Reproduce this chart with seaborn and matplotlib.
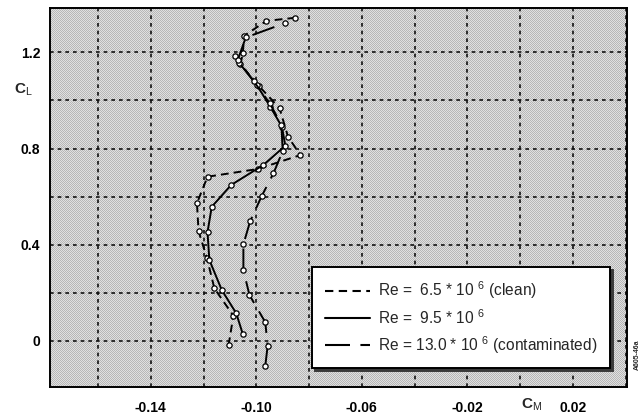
import numpy as np
import pandas as pd
import matplotlib
matplotlib.use("Agg")
import matplotlib.pyplot as plt
from matplotlib.lines import Line2D
import seaborn as sns

# Pitching moment vs. lift coefficient for three Reynolds numbers
cm_clean = [-0.1105, -0.1087, -0.1159, -0.1187, -0.1219, -0.1225, -0.1185,
            -0.0995, -0.0833, -0.0880, -0.0912, -0.0990, -0.1060, -0.1051,
            -0.1046, -0.0962, -0.0852]
cl_clean = [-0.017, 0.105, 0.219, 0.344, 0.457, 0.573, 0.683,
            0.715, 0.773, 0.850, 0.968, 1.060, 1.150, 1.199,
            1.269, 1.331, 1.344]

cm_mid = [-0.1051, -0.1076, -0.1131, -0.1178, -0.1185, -0.1169, -0.1095,
          -0.0973, -0.0890, -0.0903, -0.0947, -0.0998, -0.1064, -0.1080]
cl_mid = [0.028, 0.115, 0.212, 0.337, 0.452, 0.558, 0.649,
          0.732, 0.812, 0.891, 0.974, 1.064, 1.155, 1.185]

cm_cont = [-0.0966, -0.0957, -0.0966, -0.1026, -0.1049, -0.1049, -0.1023,
           -0.0979, -0.0935, -0.0900, -0.0905, -0.0950, -0.1010, -0.1070,
           -0.1040, -0.0893]
cl_cont = [-0.103, -0.020, 0.078, 0.191, 0.295, 0.402, 0.499,
           0.604, 0.697, 0.790, 0.900, 0.990, 1.080, 1.170,
           1.262, 1.321]

series_labels = [r"Re =  6.5 * 10 $^{6}$ (clean)",
                 r"Re =  9.5 * 10 $^{6}$",
                 r"Re = 13.0 * 10 $^{6}$ (contaminated)"]

x_ticks = [-0.16, -0.14, -0.12, -0.10, -0.08, -0.06, -0.04, -0.02, 0.00, 0.02, 0.04]
x_tick_labels = ["", "-0.14", "", "-0.10", "", "-0.06", "", "-0.02", "", "0.02", ""]
y_ticks = [0.0, 0.2, 0.4, 0.6, 0.8, 1.0, 1.2]
y_tick_labels = ["0", "", "0.4", "", "0.8", "", "1.2"]

sns.set_theme(style="white")
plt.rcParams["font.family"] = ["Liberation Sans", "DejaVu Sans"]
plt.rcParams["mathtext.fontset"] = "custom"
plt.rcParams["mathtext.rm"] = "Liberation Sans"
plt.rcParams["mathtext.it"] = "Liberation Sans"
plt.rcParams["mathtext.bf"] = "Liberation Sans:bold"

W, H = 643, 419
AX_L, AX_T, AX_R, AX_B = 50, 8, 627, 387
fig = plt.figure(figsize=(W / 100, H / 100), dpi=100)
fig.patch.set_facecolor("white")
ax = fig.add_axes([AX_L / W, 1 - AX_B / H, (AX_R - AX_L) / W, (AX_B - AX_T) / H])
ax.set_facecolor("none")

# fine stipple screen behind the plotting area, placed pixel for pixel
rows, cols = AX_B - AX_T, AX_R - AX_L
ii, jj = np.mgrid[0:rows, 0:cols]
screen = np.where((ii + jj) % 2 == 0, 0.72, 0.88)
rgb = np.dstack([screen, screen, screen])
fig.figimage(rgb, xo=AX_L, yo=H - AX_B, origin="upper", zorder=-5)

styles = [(4, 2.6), "", (12, 5)]
frames = []
for cm, cl, lab in zip([cm_clean, cm_mid, cm_cont], [cl_clean, cl_mid, cl_cont], series_labels):
    frames.append(pd.DataFrame({"CM": cm, "CL": cl, "series": lab}))
df = pd.concat(frames, ignore_index=True)

for lab, dash in zip(series_labels, styles):
    sub = df[df["series"] == lab]
    sns.lineplot(data=sub, x="CM", y="CL", sort=False, estimator=None, ax=ax,
                 color="black", linewidth=1.4, dashes=False, legend=False,
                 marker="o", markersize=3.8, markerfacecolor="white",
                 markeredgecolor="black", markeredgewidth=0.9, zorder=4)
    line = ax.lines[-1]
    if dash:
        line.set_dashes(dash)

ax.set_xlim(-0.1782, 0.0405)
ax.set_ylim(-0.1913, 1.3846)
ax.set_xticks(x_ticks)
ax.set_xticklabels(x_tick_labels)
ax.set_yticks(y_ticks)
ax.set_yticklabels(y_tick_labels)
ax.tick_params(axis="both", length=0, labelsize=10, colors="black")
ax.tick_params(axis="x", pad=10)
ax.tick_params(axis="y", pad=7)
for t in ax.get_xticklabels() + ax.get_yticklabels():
    t.set_fontweight("bold")
ax.set_xlabel("")
ax.set_ylabel("")

ax.grid(True, color="#111111", linestyle=(0, (2.2, 2.4)), linewidth=1.2)
ax.set_axisbelow(True)
for s in ax.spines.values():
    s.set_visible(True)
    s.set_color("black")
    s.set_linewidth(1.4)

fig.text(23 / W, 1 - 90 / H, r"C$_{\mathrm{L}}$", fontsize=11, fontweight="bold",
         ha="center", va="center")
fig.text(532 / W, 1 - 405 / H, r"C$_{\mathrm{M}}$", fontsize=11, fontweight="bold",
         ha="center", va="center")
fig.text(637 / W, 1 - 355 / H, "A605-46a", fontsize=5, rotation=90,
         ha="center", va="center", fontweight="bold")

handles = [Line2D([], [], color="black", linewidth=1.5, dashes=styles[0]),
           Line2D([], [], color="black", linewidth=1.5),
           Line2D([], [], color="black", linewidth=1.5, dashes=styles[2])]
leg = ax.legend(handles, series_labels, loc="lower right",
                bbox_to_anchor=(0.9705, 0.050), fontsize=11.2, frameon=True,
                fancybox=False, framealpha=1, edgecolor="black",
                handlelength=2.9, handletextpad=0.55, labelspacing=0.45,
                borderpad=0.8, borderaxespad=0,
                shadow={"color": "#3a3a3a", "alpha": 1.0})
leg.get_frame().set_linewidth(1.4)
leg.set_zorder(10)

fig.savefig("out.png", dpi=100)
